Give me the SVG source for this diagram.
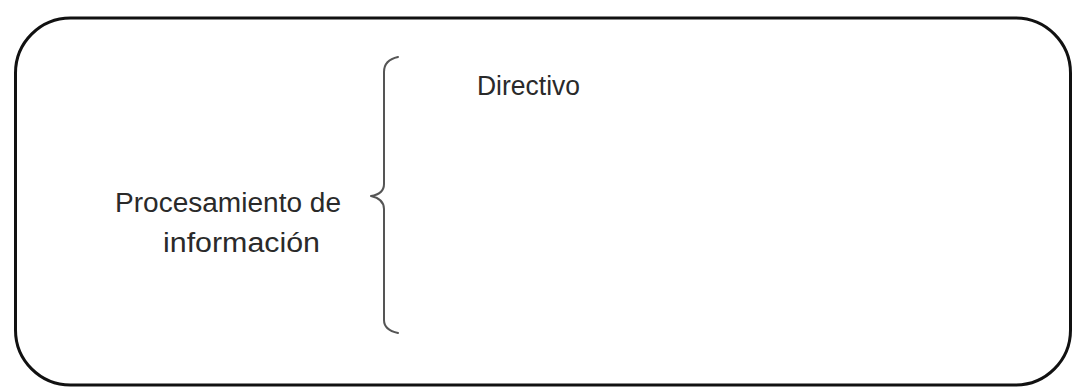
<svg xmlns="http://www.w3.org/2000/svg" width="1073" height="389" viewBox="0 0 1073 389">
  <style>
    .lbl { font-family: "Liberation Sans", Arial, sans-serif; font-size: 27px; fill: #2a2a2a; }
    .frame { fill: #ffffff; stroke: #111111; stroke-width: 3; }
    .brace { fill: none; stroke: #555555; stroke-width: 2; stroke-linecap: round; stroke-linejoin: round; }
  </style>
  <rect x="0" y="0" width="1073" height="389" fill="#ffffff"/>
  <g id="frame">
    <rect class="frame" x="15.5" y="18" width="1055" height="367" rx="55" ry="55"/>
  </g>
  <g id="node-procesamiento">
    <text class="lbl" x="115" y="212" textLength="226" lengthAdjust="spacingAndGlyphs">Procesamiento de</text>
    <text class="lbl" x="163" y="252" textLength="157" lengthAdjust="spacingAndGlyphs">información</text>
  </g>
  <g id="connectors">
    <path class="brace" d="M398,57 Q384,60 384,72 L384,184 Q384,194 371,196 Q384,199 384,209 L384,320 Q384,330 398,333"/>
  </g>
  <g id="node-directivo">
    <text class="lbl" x="477" y="95" textLength="103" lengthAdjust="spacingAndGlyphs">Directivo</text>
  </g>
</svg>
